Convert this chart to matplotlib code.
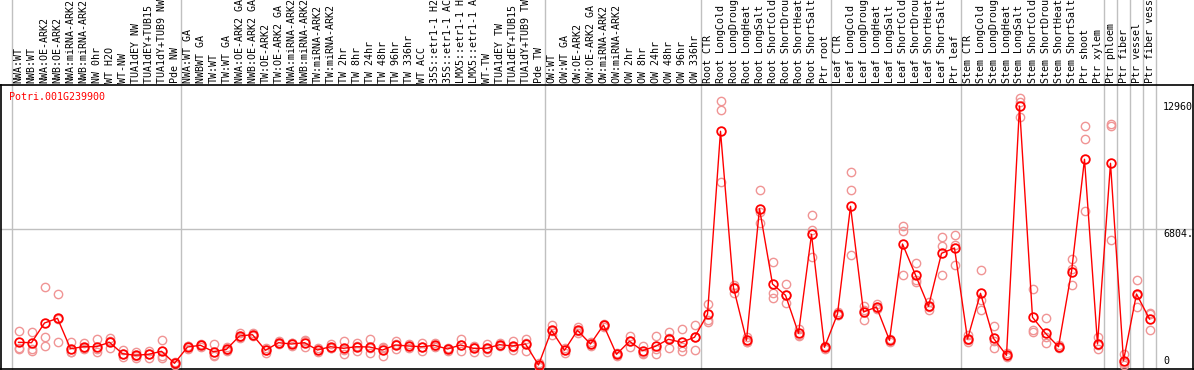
import matplotlib
matplotlib.use("Agg")
import matplotlib.pyplot as plt
import numpy as np

gene = "Potri.001G239900"

samples = [
    "NWA:WT", "NWB:WT", "NWA:OE-ARK2", "NWB:OE-ARK2", "NWA:miRNA-ARK2",
    "NWB:miRNA-ARK2", "NW 0hr", "WT H2O", "WT-NW", "TUA1dEY NW",
    "TUA1dEY+TUB15 NW", "TUA1dY+TUB9 NW", "Pde NW",
    "NWA:WT GA", "NWBWT GA", "TW:WT", "TW:WT GA", "NWA:OE-ARK2 GA",
    "NWB:OE-ARK2 GA", "TW:OE-ARK2", "TW:OE-ARK2 GA", "NWA:miRNA-ARK2 GA",
    "NWB:miRNA-ARK2 GA", "TW:miRNA-ARK2", "TW:miRNA-ARK2 GA", "TW 2hr",
    "TW 8hr", "TW 24hr", "TW 48hr", "TW 96hr", "TW 336hr", "WT ACC",
    "35S::etr1-1 H2O", "35S::etr1-1 ACC", "LMX5::etr1-1 H2O",
    "LMX5::etr1-1 ACC", "WT-TW", "TUA1dEY TW", "TUA1dEY+TUB15 TW",
    "TUA1dY+TUB9 TW", "Pde TW",
    "OW:WT", "OW:WT GA", "OW:OE-ARK2", "OW:OE-ARK2 GA", "OW:miRNA-ARK2",
    "OW:miRNA-ARK2 GA", "OW 2hr", "OW 8hr", "OW 24hr", "OW 48hr", "OW 96hr",
    "OW 336hr",
    "Root CTR", "Root LongCold", "Root LongDrought", "Root LongHeat",
    "Root LongSalt", "Root ShortCold", "Root ShortDrought", "Root ShortHeat",
    "Root ShortSalt", "Ptr root",
    "Leaf CTR", "Leaf LongCold", "Leaf LongDrought", "Leaf LongHeat",
    "Leaf LongSalt", "Leaf ShortCold", "Leaf ShortDrought", "Leaf ShortHeat",
    "Leaf ShortSalt", "Ptr leaf",
    "Stem CTR", "Stem LongCold", "Stem LongDrought", "Stem LongHeat",
    "Stem LongSalt", "Stem ShortCold", "Stem ShortDrought", "Stem ShortHeat",
    "Stem ShortSalt", "Ptr shoot", "Ptr xylem",
    "Ptr phloem", "Ptr fiber", "Ptr vessel", "Ptr fiber vessel",
]

# last sample index of each block (a separator is drawn after it)
group_ends = [-1, 12, 40, 52, 62, 72, 83, 84, 85, 86, 87]

means = [
    1254, 1235, 2196, 2425, 942, 1039, 1039, 1254, 698, 620, 669, 815, 229,
    1025, 1108, 795, 913, 1562, 1625, 864, 1235, 1171, 1235, 878, 1039, 961,
    1039, 1025, 878, 1122, 1074, 1039, 1108, 927, 1122, 961, 961, 1137, 1074,
    1171, 146,
    1840, 864, 1840, 1171, 2098, 669, 1303, 844, 1059, 1401, 1254, 1498,
    2621, 11551, 3919, 1352, 7774, 4099, 3548, 1693, 6525, 1010,
    2635, 7891, 2733, 2977, 1352, 6051, 4538, 3011, 5597, 5856,
    1415, 3645, 1449, 620, 12786, 2474, 1693, 1039, 4699, 10185, 1171,
    9990, 356, 3611, 2391,
]

reps = [
    [1806, 991, 927], [1757, 927, 844], [3938, 1498, 1074], [3597, 1269, 2410],
    [1269, 781, 776], [942, 1220, 955], [1415, 781, 921], [1479, 976, 1307],
    [878, 537, 679], [795, 473, 592], [830, 473, 704], [1366, 503, 576],
    [293, 146, 248],
    [1074, 942, 1059], [1171, 1025, 1128], [1157, 634, 594], [1039, 830, 870],
    [1708, 1464, 1514], [1693, 1562, 1620], [961, 747, 884], [1171, 1318, 1216],
    [1235, 1074, 1204], [1366, 1039, 1300], [961, 795, 878], [1171, 961, 985],
    [1318, 683, 882], [1205, 830, 1082], [1401, 717, 957], [1039, 600, 995],
    [1303, 913, 1150], [1147, 1000, 1075], [1235, 844, 1038], [1205, 1025, 1094],
    [1000, 854, 927], [1430, 815, 1121], [1074, 795, 1014], [1157, 795, 931],
    [1205, 1074, 1132], [1303, 878, 1041], [1430, 844, 1239], [244, 73, 121],
    [2098, 1610, 1812], [732, 976, 884], [1693, 2001, 1826], [1254, 1074, 1185],
    [2147, 2025, 2122], [756, 586, 665], [1547, 1025, 1337], [1074, 756, 702],
    [1576, 669, 932], [1757, 961, 1485], [1889, 830, 1043], [2098, 893, 1503],
    [3123, 2342, 2245], [13030, 12576, 9091], [4050, 3645, 3953],
    [1513, 1269, 1274], [8672, 7627, 7091], [5173, 3645, 3401],
    [4085, 3157, 3562], [1903, 1610, 1566], [7452, 6749, 5431], [1074, 927, 1029],
    [2733, 2586, 2586], [9550, 8672, 5500], [3026, 2328, 2845], [3138, 2879, 2914],
    [1415, 1269, 1372], [6944, 6700, 4524], [5124, 4211, 4294], [3221, 2830, 2982],
    [6378, 5939, 4524], [6490, 6017, 5026],
    [1610, 1269, 1366], [4782, 2830, 3323], [2064, 961, 1322], [732, 537, 591],
    [13161, 12234, 12963], [3855, 1854, 1757], [2440, 1527, 1205],
    [1122, 961, 1034], [5319, 4816, 4050], [11795, 11160, 7662],
    [1498, 913, 1102],
    [11907, 6246, 11800], [683, 146, 240], [4294, 2962, 3577], [2669, 1854, 2650],
]

y_ticks = [0, 6804, 12960]
y_tick_text = ["0", "6804.", "12960"]

W, H = 1194, 370
fig = plt.figure(figsize=(W / 100, H / 100), dpi=100)
ax = fig.add_axes([0, 0, 1, 1])
ax.set_axis_off()

# pixel layout: sample i sits at x = 18.5 + 13 i, value 0 at y = 368
x0, dx = 18.5, 13.0
scale = 48.8  # expression units per pixel
ax.set_xlim(-x0 / dx, (W - x0) / dx)
ax.set_ylim(-(H - 368) * scale, 368 * scale)

def px_x(p):
    return (p - x0) / dx

def px_y(p):
    return (368 - p) * scale

mono = "DejaVu Sans Mono"
fs = 7.2
grey = "#c0c0c0"

# block separators
for g in group_ends:
    ax.axvline(g + 0.5, color=grey, lw=1, zorder=1)
ax.plot([px_x(1), px_x(W - 1)], [6804, 6804], color=grey, lw=1, zorder=1)

# frame of the plot area and header rule
top = px_y(85)
bot = px_y(369)
ax.plot([px_x(0), px_x(W)], [top, top], color="black", lw=1.2, zorder=2)
ax.plot([px_x(0), px_x(W)], [bot, bot], color="black", lw=1.2, zorder=2)
ax.plot([px_x(1), px_x(1)], [top, bot], color="black", lw=1.2, zorder=2)
ax.plot([px_x(W - 1), px_x(W - 1)], [top, bot], color="black", lw=1.2, zorder=2)

xs = np.arange(len(samples))
r = np.array(reps)
for k in range(r.shape[1]):
    ax.plot(xs, r[:, k], ls="none", marker="o", ms=6, mfc="none",
            mec="#f09494", mew=1.0, zorder=3)
ax.plot(xs, means, color="red", lw=1, zorder=4)
ax.plot(xs, means, ls="none", marker="o", ms=6.2, mfc="none",
        mec="red", mew=1.3, zorder=5)

# sample names in the header
for i, name in enumerate(samples):
    ax.text(i, px_y(83), name, rotation=90, ha="center", va="bottom",
            family=mono, fontsize=fs, color="black", clip_on=False)

ax.text(px_x(9), px_y(97), gene, ha="left", va="center",
        family=mono, fontsize=fs, color="red")

for v, t in zip(y_ticks, y_tick_text):
    va = "bottom" if v == 0 else "top"
    yy = px_y(366) if v == 0 else v
    ax.text(px_x(1163), yy, t, ha="left", va=va, family=mono,
            fontsize=fs, color="black")

fig.savefig("out.png", dpi=100, facecolor="white")
